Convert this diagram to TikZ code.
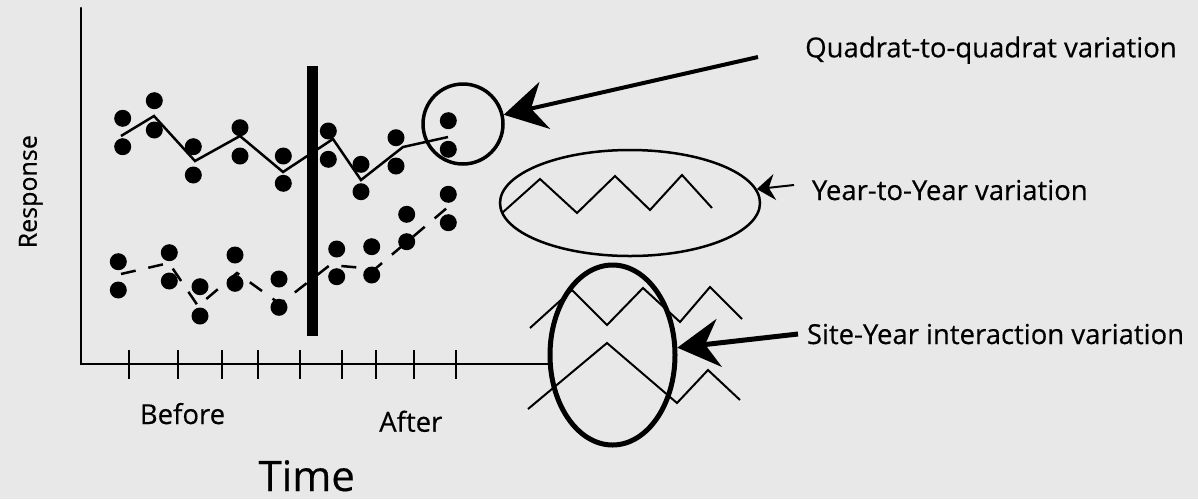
\documentclass[tikz,border=0pt]{standalone}
\usepackage{fontspec}
\setmainfont{Open Sans}
\usetikzlibrary{arrows.meta,shapes.geometric}
\definecolor{bg}{RGB}{232,232,232}
\begin{document}
\begin{tikzpicture}[x=1pt,y=-1pt,
  dot/.style={circle,fill=black,inner sep=0pt,minimum size=17pt},
  axisline/.style={line width=2.5pt,line cap=round},
  tickline/.style={line width=2pt},
  trendline/.style={line width=2.5pt,line join=miter},
  dashline/.style={line width=2.5pt,dash pattern=on 15pt off 13pt},
  zig/.style={line width=2pt,line join=miter},
  lbl/.style={font=\fontsize{27.5}{30}\selectfont\addfontfeatures{FakeBold=0.4},inner sep=0pt},
  bigarrow/.style={line width=4pt,-{Stealth[length=42pt,width=48pt,inset=14pt]}},
  smallarrow/.style={line width=2pt,-{Stealth[length=18pt,width=26pt,inset=6pt]}},
]
\fill[bg] (0,0) rectangle (1198,499);
\useasboundingbox (0,0) rectangle (1198,499);

% axes
\coordinate (ytop) at (81,8);
\coordinate (orig) at (81,364);
\coordinate (xend) at (550,364);
\draw[axisline] (ytop) -- (orig) -- (xend);
\foreach \x in {129,178,222,258,300,342,376,414,456}
  \draw[tickline] (\x,350) -- (\x,379);

% intervention bar
\node[fill=black,inner sep=0pt,minimum width=11pt,minimum height=270pt] (bar) at (312.5,201) {};

% top dots
\foreach \x/\ya/\yb [count=\i] in {122.7/118.3/146.7,154.3/100.7/130,193.3/146.7/175,240/127.7/156,283.3/156/183.3,328.3/131/159.3,361/164.3/191.7,396/137.7/166,448.3/120.7/149.3}{
  \node[dot] (ta\i) at (\x,\ya) {};
  \node[dot] (tb\i) at (\x,\yb) {};
}
% bottom dots
\foreach \x/\ya/\yb [count=\i] in {118.3/261.7/290,169.3/252.7/281,200/286.7/316,235/255/283.3,279/279/307.3,336.7/249/276.7,371.7/246.7/275,406.7/214.3/241.7,448.3/194.3/222.7}{
  \node[dot] (ba\i) at (\x,\ya) {};
  \node[dot] (bb\i) at (\x,\yb) {};
}

% solid trend line
\coordinate (s1) at (121,136);
\coordinate (s2) at (154,116);
\coordinate (s3) at (195,161);
\coordinate (s4) at (240,136);
\coordinate (s5) at (283,172);
\coordinate (s6) at (333,139);
\coordinate (s7) at (361,180);
\coordinate (s8) at (403,147);
\coordinate (s9) at (448,137);
\draw[trendline] (s1) -- (s2) -- (s3) -- (s4) -- (s5) -- (s6) -- (s7) -- (s8) -- (s9);

% dashed trend line
\coordinate (d1) at (121,274);
\coordinate (d2) at (169,263);
\coordinate (d3) at (198,306);
\coordinate (d4) at (237,273);
\coordinate (d5) at (280,304);
\coordinate (d6) at (330,265);
\coordinate (d7) at (375,269);
\coordinate (d8) at (448,207);
\draw[dashline] (d1) -- (d2) -- (d3) -- (d4) -- (d5) -- (d6) -- (d7) -- (d8);

% quadrat circle
\node[circle,draw,line width=3.5pt,minimum size=80pt,inner sep=0pt] (qc) at (463,124) {};
% year ellipse
\node[ellipse,draw,line width=2.5pt,minimum width=260pt,minimum height=106pt,inner sep=0pt] (ye) at (630,203) {};
\draw[zig] (502,213) -- (540,179) -- (577,213) -- (615,176) -- (650,210) -- (682,175) -- (712,208);
% site-year ellipse
\draw[zig] (530,328) -- (572,290) -- (607,325) -- (643,288) -- (680,322) -- (710,287) -- (742,319);
\draw[zig] (528,409) -- (607,343) -- (677,403) -- (708,370) -- (740,400);
\node[ellipse,draw,line width=5pt,minimum width=125pt,minimum height=180pt,inner sep=0pt] (se) at (612.5,355) {};

% arrows
\coordinate (qa) at (758,57);
\draw[bigarrow] (qa) -- (qc);
\coordinate (ya) at (794,185);
\draw[smallarrow] (ya) -- (ye);
\coordinate (sa) at (798,334);
\draw[bigarrow,line width=5pt] (sa) -- (se);

% labels
\node[lbl,anchor=base west] (ql) at (805,57.3) {Quadrat-to-quadrat variation};
\node[lbl,anchor=base west] (yl) at (811.7,200) {Year-to-Year variation};
\node[lbl,anchor=base west] (sl) at (806.7,344) {Site-Year interaction variation};
\node[lbl,anchor=base] (bef) at (182.5,424) {Before};
\node[lbl,anchor=base] (aft) at (410.8,431.7) {After};
\node[lbl,anchor=base,font=\fontsize{42}{46}\selectfont\addfontfeatures{FakeBold=0.4}] (time) at (306.7,491) {Time};
\node[lbl,anchor=base,rotate=90,font=\fontsize{25}{28}\selectfont\addfontfeatures{FakeBold=0.4}] (resp) at (36.7,191.7) {Response};
\end{tikzpicture}
\end{document}
